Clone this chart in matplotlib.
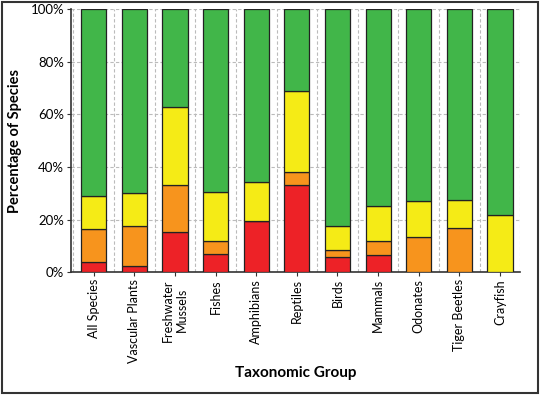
import matplotlib
matplotlib.use("Agg")
import matplotlib.pyplot as plt
import numpy as np
from matplotlib.patches import Rectangle

categories = ["All Species", "Vascular Plants", "Freshwater\nMussels", "Fishes", "Amphibians",
              "Reptiles", "Birds", "Mammals", "Odonates", "Tiger Beetles", "Crayfish"]
# cumulative tops (%)
red_top    = [3.7, 2.5, 15.2, 6.8, 19.4, 33.1, 5.8, 6.5, 0.0, 0.0, 0.0]
orange_top = [16.3, 17.4, 33.1, 11.8, 19.4, 38.1, 8.5, 11.8, 13.4, 16.7, 0.0]
yellow_top = [29.0, 29.9, 62.6, 30.4, 34.3, 69.0, 17.7, 25.1, 26.9, 27.3, 21.8]

red = np.array(red_top)
orange = np.array(orange_top) - red
yellow = np.array(yellow_top) - np.array(orange_top)
green = 100 - np.array(yellow_top)

colors = ["#ED2227", "#F7941D", "#F5EB16", "#41B649"]

plt.rcParams['font.family'] = ['Lato', 'DejaVu Sans']
fig = plt.figure(figsize=(5.4, 3.95), dpi=100)
ax = fig.add_axes([0.1315, 0.311, 0.832, 0.666])

x = np.arange(len(categories))
bottom = np.zeros(len(categories))
for vals, c in zip([red, orange, yellow, green], colors):
    ax.bar(x, vals, bottom=bottom, width=0.62, color=c, edgecolor="#222222", linewidth=0.9, zorder=3)
    bottom = bottom + vals

ax.set_xlim(-0.56, 10.5)
ax.set_ylim(0, 100)
ax.set_yticks([0, 20, 40, 60, 80, 100])
ax.set_yticklabels(["0%", "20%", "40%", "60%", "80%", "100%"], fontsize=9.5)
ax.set_xticks(x)
ax.set_xticklabels(categories, rotation=90, fontsize=9, ha="center", va="top", multialignment="center")
ax.set_xticks(np.arange(-0.5, 11, 1), minor=True)
ax.tick_params(axis="x", which="minor", length=0)
ax.grid(True, axis="y", which="major", linestyle=(0, (3, 2)), color="#bbbbbb", linewidth=0.8, zorder=0)
ax.grid(True, axis="x", which="minor", linestyle=(0, (3, 2)), color="#bbbbbb", linewidth=0.8, zorder=0)
ax.tick_params(axis="both", which="major", length=3, color="#333333", pad=2)
for s in ["top", "right"]:
    ax.spines[s].set_visible(False)
for s in ["left", "bottom"]:
    ax.spines[s].set_color("#333333")
    ax.spines[s].set_linewidth(1.2)

ax.set_ylabel("Percentage of Species", fontsize=10.5, fontweight="bold", labelpad=6)
ax.set_xlabel("Taxonomic Group", fontsize=11, fontweight="bold", labelpad=2)

fig.patches.append(Rectangle((0.003, 0.004), 0.994, 0.992, transform=fig.transFigure,
                             fill=False, edgecolor="#333333", linewidth=1.5))

fig.savefig("out.png", dpi=100)
